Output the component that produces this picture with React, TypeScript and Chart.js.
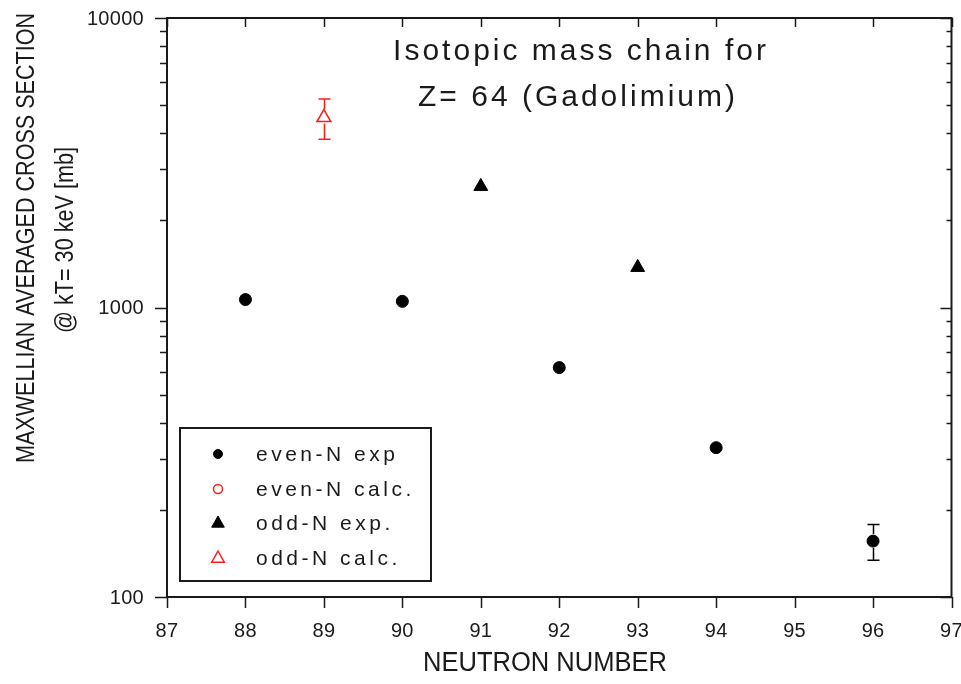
import React, { useEffect, useRef } from "react";
import { Chart, registerables } from "chart.js";
Chart.register(...registerables);

// ---- data ----
const evenN = [88, 90, 92, 94, 96];
const evenExp = [1065, 1050, 620, 328, 156];
const evenExpErr = [0, 0, 0, 0, 22];
const evenCalcN: number[] = [];
const evenCalc: number[] = [];
const oddN = [91, 93];
const oddExp = [2620, 1375];
const oddExpErr = [0, 0];
const oddCalcN = [89];
const oddCalc = [4530];
const oddCalcErr = [720];

const xTicks = [87, 88, 89, 90, 91, 92, 93, 94, 95, 96, 97];
const yMajor = [100, 1000, 10000];
const yTickLabels = ["100", "1000", "10000"];
const legendLabels = ["even-N exp", "even-N calc.", "odd-N exp.", "odd-N calc."];
const titleLines = ["Isotopic mass chain for", "Z= 64 (Gadolimium)"];
const xTitle = "NEUTRON NUMBER";
const yTitle = ["MAXWELLIAN AVERAGED CROSS SECTION", "@ kT= 30 keV [mb]"];

const FONT = "'Liberation Sans', Arial, sans-serif";
const INK = "#1a1a1a";
const RED = "#ff1a1a";

const toPts = (xs: number[], ys: number[]) => xs.map((x, i) => ({ x, y: ys[i] }));

// draw text centred at (cx, cy), squeezed/stretched horizontally to a given width
function fitText(ctx: CanvasRenderingContext2D, text: string, cx: number, cy: number, width: number) {
  const w = ctx.measureText(text).width;
  ctx.save();
  ctx.translate(cx, cy);
  ctx.scale(width / w, 1);
  ctx.textAlign = "center";
  ctx.fillText(text, 0, 0);
  ctx.restore();
}

export default function App() {
  const ref = useRef<HTMLCanvasElement | null>(null);
  useEffect(() => {
    document.body.style.margin = "0";
    const canvas = ref.current!;
    const errs = [evenExpErr, [], oddExpErr, oddCalcErr];

    const deco = {
      id: "deco",
      afterDatasetsDraw(chart: any) {
        const ctx = chart.ctx as CanvasRenderingContext2D;
        const xs = chart.scales.x;
        const ys = chart.scales.y;
        const { left, right, top, bottom } = chart.chartArea;
        ctx.save();
        // error bars
        chart.data.datasets.forEach((ds: any, di: number) => {
          const e = errs[di] as number[];
          ds.data.forEach((p: any, i: number) => {
            const err = e[i];
            if (!err) return;
            const px = Math.round(xs.getPixelForValue(p.x)) + 0.5;
            const pc = ys.getPixelForValue(p.y);
            const pt = ys.getPixelForValue(p.y + err);
            const pb = ys.getPixelForValue(p.y - err);
            const tri = ds.pointStyle === "triangle";
            const rUp = tri ? ds.pointRadius : ds.pointRadius + 1;
            const rDn = tri ? ds.pointRadius * 0.5 + 2 : ds.pointRadius + 1;
            ctx.strokeStyle = ds.borderColor;
            ctx.lineWidth = 1.5;
            ctx.beginPath();
            ctx.moveTo(px, pt);
            ctx.lineTo(px, pc - rUp);
            ctx.moveTo(px, pc + rDn);
            ctx.lineTo(px, pb);
            ctx.moveTo(px - 6, pt);
            ctx.lineTo(px + 6, pt);
            ctx.moveTo(px - 6, pb);
            ctx.lineTo(px + 6, pb);
            ctx.stroke();
          });
        });

        // frame
        ctx.strokeStyle = INK;
        ctx.lineWidth = 2;
        ctx.strokeRect(left, top, right - left, bottom - top);
        ctx.lineWidth = 1.5;
        ctx.beginPath();
        xTicks.forEach((v) => {
          const px = Math.round(xs.getPixelForValue(v)) + 0.5;
          ctx.moveTo(px, bottom);
          ctx.lineTo(px, bottom + 11);
          ctx.moveTo(px, top);
          ctx.lineTo(px, top + 9);
        });
        for (let d = 0; d < yMajor.length; d++) {
          const py = Math.round(ys.getPixelForValue(yMajor[d])) + 0.5;
          ctx.moveTo(left - 12, py);
          ctx.lineTo(left, py);
          ctx.moveTo(right, py);
          ctx.lineTo(right - 11, py);
          if (d < yMajor.length - 1) {
            for (let k = 2; k <= 9; k++) {
              const pm = Math.round(ys.getPixelForValue(yMajor[d] * k)) + 0.5;
              ctx.moveTo(left - 7, pm);
              ctx.lineTo(left, pm);
              ctx.moveTo(right, pm);
              ctx.lineTo(right - 5, pm);
            }
          }
        }
        ctx.stroke();

        // tick labels
        ctx.fillStyle = INK;
        (ctx as any).letterSpacing = "0.3px";
        ctx.font = `20px ${FONT}`;
        ctx.textAlign = "center";
        ctx.textBaseline = "middle";
        xTicks.forEach((v) => {
          ctx.fillText(String(v), xs.getPixelForValue(v), bottom + 34);
        });
        ctx.textAlign = "right";
        yMajor.forEach((v, i) => {
          ctx.fillText(yTickLabels[i], left - 23, ys.getPixelForValue(v) + 1);
        });

        // axis titles
        (ctx as any).letterSpacing = "0px";
        ctx.font = `27px ${FONT}`;
        fitText(ctx, xTitle, 545, bottom + 67, 244);
        ctx.save();
        ctx.rotate(-Math.PI / 2);
        ctx.font = `26px ${FONT}`;
        // after rotation: (x', y') = (-y, x)
        fitText(ctx, yTitle[0], -238, 27, 450);
        fitText(ctx, yTitle[1], -240, 66, 186);
        ctx.restore();

        // chart title
        (ctx as any).letterSpacing = "3px";
        ctx.font = `30px ${FONT}`;
        ctx.textAlign = "center";
        ctx.fillText(titleLines[0], 581, 52);
        ctx.fillText(titleLines[1], 578, 98);

        // legend
        ctx.lineWidth = 2;
        ctx.strokeStyle = INK;
        ctx.strokeRect(180, 428, 251, 153);
        (ctx as any).letterSpacing = "3.5px";
        ctx.font = `21px ${FONT}`;
        ctx.textAlign = "left";
        const rows = [454, 489, 523, 558];
        chart.data.datasets.forEach((ds: any, i: number) => {
          const y = rows[i];
          const x = 218;
          ctx.beginPath();
          ctx.lineWidth = ds.borderWidth;
          ctx.strokeStyle = ds.borderColor;
          ctx.fillStyle = ds.backgroundColor;
          if (ds.pointStyle === "triangle") {
            const r = 7;
            ctx.moveTo(x, y - r);
            ctx.lineTo(x + r * 0.9, y + r * 0.6);
            ctx.lineTo(x - r * 0.9, y + r * 0.6);
            ctx.closePath();
          } else {
            ctx.arc(x, y, 4.5, 0, Math.PI * 2);
          }
          ctx.fill();
          ctx.stroke();
          ctx.fillStyle = INK;
          ctx.fillText(legendLabels[i], 256, y + 1);
        });
        ctx.restore();
      },
    };

    const chart = new Chart(canvas, {
      type: "scatter",
      data: {
        datasets: [
          {
            label: legendLabels[0],
            data: toPts(evenN, evenExp),
            pointStyle: "circle",
            pointRadius: 6,
            backgroundColor: "#000",
            borderColor: "#000",
            borderWidth: 1,
          },
          {
            label: legendLabels[1],
            data: toPts(evenCalcN, evenCalc),
            pointStyle: "circle",
            pointRadius: 5,
            backgroundColor: "rgba(0,0,0,0)",
            borderColor: RED,
            borderWidth: 1.5,
          },
          {
            label: legendLabels[2],
            data: toPts(oddN, oddExp),
            pointStyle: "triangle",
            pointRadius: 8,
            backgroundColor: "#000",
            borderColor: "#000",
            borderWidth: 1,
          },
          {
            label: legendLabels[3],
            data: toPts(oddCalcN, oddCalc),
            pointStyle: "triangle",
            pointRadius: 8,
            backgroundColor: "rgba(0,0,0,0)",
            borderColor: RED,
            borderWidth: 1.5,
          },
        ],
      },
      options: {
        animation: false,
        responsive: false,
        devicePixelRatio: 1,
        layout: { padding: { left: 167, top: 18, right: 7, bottom: 87 } },
        plugins: { legend: { display: false }, tooltip: { enabled: false }, title: { display: false } },
        scales: {
          x: { type: "linear", min: 87, max: 97, display: false },
          y: { type: "logarithmic", min: 100, max: 10000, display: false },
        },
      },
      plugins: [deco],
    });
    return () => chart.destroy();
  }, []);
  return (
    <div style={{ position: "fixed", left: 0, top: 0, width: 961, height: 684, background: "#fff" }}>
      <canvas ref={ref} width={961} height={684} />
    </div>
  );
}
